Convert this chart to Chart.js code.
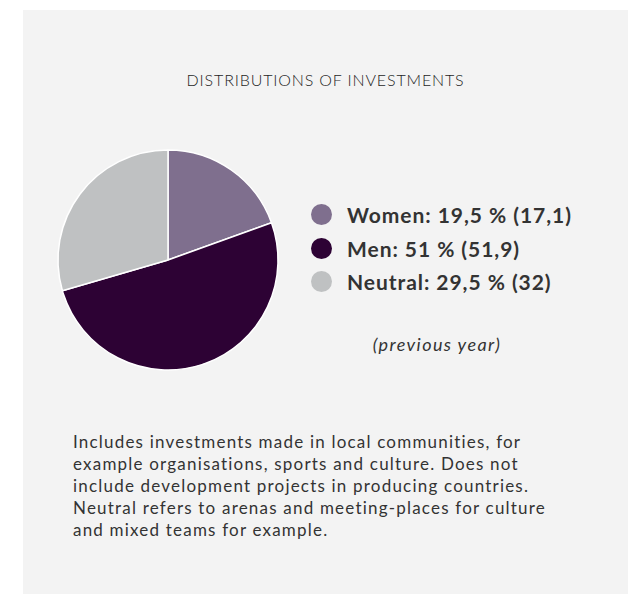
<!DOCTYPE html>
<html>
<head>
<meta charset="utf-8">
<script src="https://cdn.jsdelivr.net/npm/chart.js@4"></script>
<style>
  html, body { margin: 0; padding: 0; background: #fff; }
  body { width: 628px; height: 595px; position: relative; overflow: hidden; font-family: Lato, "Open Sans", sans-serif; }
  .panel { position: absolute; left: 23px; top: 10px; width: 605px; height: 584px; background: #f3f3f3; }
  .title { position: absolute; left: 23px; width: 605px; top: 70px; text-align: center; font-size: 16px; font-weight: 300; color: #1e1e1e; letter-spacing: 0.85px; }
  .pie-wrap { position: absolute; left: 48px; top: 140px; width: 240px; height: 240px; }
  .legend { position: absolute; left: 311px; top: 198px; }
  .legend-item { display: flex; align-items: center; height: 33.5px; font-size: 21px; font-weight: 700; color: #333; letter-spacing: 0.95px; }
  .legend-dot { width: 21px; height: 21px; border-radius: 50%; margin-right: 15px; flex: none; }
  .prev { position: absolute; left: 437px; top: 333px; transform: translateX(-50%); font-size: 18px; font-style: italic; color: #333; letter-spacing: 1.4px; white-space: nowrap; }
  .note { position: absolute; left: 73px; top: 431px; font-size: 17px; line-height: 22px; color: #333; font-weight: 400; letter-spacing: 1.2px; white-space: nowrap; }
</style>
</head>
<body>
<div class="panel"></div>
<div class="title">DISTRIBUTIONS OF INVESTMENTS</div>
<div class="pie-wrap"><canvas id="pie" width="240" height="240"></canvas></div>
<div class="legend" id="legend"></div>
<div class="prev">(previous year)</div>
<div class="note">Includes investments made in local communities, for<br>example organisations, sports and culture. Does not<br>include development projects in producing countries.<br>Neutral refers to arenas and meeting-places for culture<br>and mixed teams for example.</div>
<script>
  // data
  const categories = ['Women', 'Men', 'Neutral'];
  const shares = [19.5, 51, 29.5];
  const previousYear = [17.1, 51.9, 32];
  const colours = ['#7f6f8e', '#2d0234', '#bfc1c2'];

  function fmt(n) {
    return String(n).replace('.', ',');
  }

  const ctx = document.getElementById('pie').getContext('2d');
  const chart = new Chart(ctx, {
    type: 'pie',
    data: {
      labels: categories,
      datasets: [{
        data: shares,
        backgroundColor: colours,
        borderColor: '#ffffff',
        borderWidth: 1.5,
        radius: 110
      }]
    },
    options: {
      responsive: false,
      animation: false,
      plugins: {
        legend: { display: false },
        tooltip: { enabled: false }
      }
    }
  });

  // legend built from the chart's data
  const legend = document.getElementById('legend');
  chart.data.labels.forEach((label, i) => {
    const row = document.createElement('div');
    row.className = 'legend-item';
    const dot = document.createElement('span');
    dot.className = 'legend-dot';
    dot.style.background = colours[i];
    const txt = document.createElement('span');
    txt.textContent = `${label}: ${fmt(shares[i])} % (${fmt(previousYear[i])})`;
    row.appendChild(dot);
    row.appendChild(txt);
    legend.appendChild(row);
  });
</script>
</body>
</html>
